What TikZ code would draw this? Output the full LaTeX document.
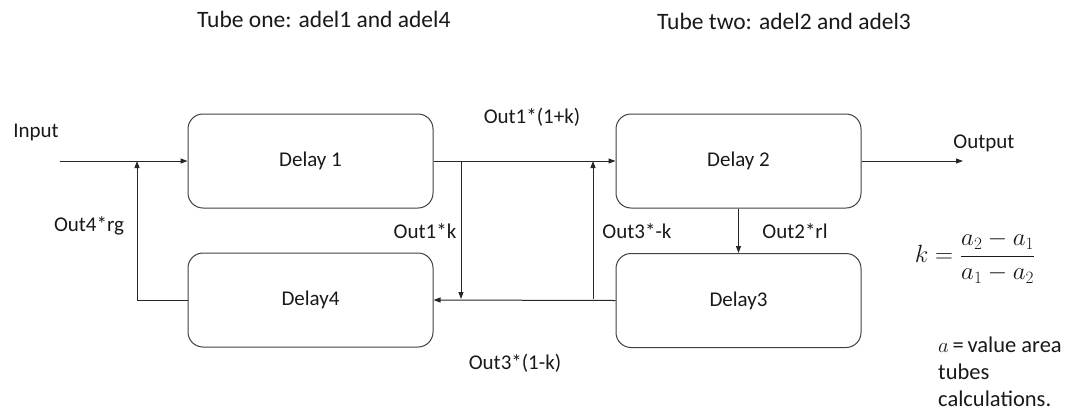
\documentclass[tikz,border=0pt]{standalone}
\usepackage{fontspec}
\setmainfont{Carlito}
\usetikzlibrary{arrows.meta}
\begin{document}
\begin{tikzpicture}[x=1pt,y=-1pt,
  every node/.style={font=\fontsize{21}{27}\selectfont, text=black!90},
  bigtext/.style={font=\fontsize{23.5}{27}\selectfont},
  delaybox/.style={draw=black!75, line width=1pt, rounded corners=15pt, minimum width=245pt, minimum height=94pt, inner sep=0pt},
  conn/.style={draw=black!85, line width=1pt},
  arr/.style={conn, -{Triangle[length=7pt,width=5pt]}},
  lbl/.style={inner sep=0pt}]
\useasboundingbox (0,0) rectangle (1078,418);
% boxes
\node[delaybox] (d1) at (310.5,161) {Delay 1};
\node[delaybox] (d2) at (738.5,161) {Delay 2};
\node[delaybox] (d3) at (738.5,300.5) {Delay3};
\node[delaybox] (d4) at (310.5,300) {Delay4};
% coordinates
\coordinate (in) at (60,161);
\coordinate (out) at (963,161);
\coordinate (j1) at (137,161);
\coordinate (j2) at (461,161);
\coordinate (j3) at (461,299);
\coordinate (j4) at (593,299);
\coordinate (j5) at (593,161);
% connectors
\draw[arr] (in) -- (d1.west);
\draw[arr] (d4.west) -| (j1);
\draw[arr] (d1.east) -- (d2.west);
\draw[arr] (j2) -- (j3);
\draw[arr] (j4) -- (j5);
\draw[arr] (d3.west) -- (d4.east);
\draw[arr] (d2.south) -- (d3.north);
\draw[arr] (d2.east) -- (out);
% labels
\node[lbl, bigtext, anchor=west] (t1) at (197,19) {Tube one: adel1 and adel4};
\node[lbl, bigtext, anchor=west] (t2) at (657,21) {Tube two: adel2 and adel3};
\node[lbl] (linput) at (36,132) {Input};
\node[lbl] (loutput) at (984,143) {Output};
\node[lbl] (l4rg) at (89,226) {Out4*rg};
\node[lbl] (l1k) at (425,231) {Out1*k};
\node[lbl] (l3k) at (637,231) {Out3*-k};
\node[lbl] (l2rl) at (795,231) {Out2*rl};
\node[lbl] (l11k) at (532,117) {Out1*(1+k)};
\node[lbl] (l31k) at (515,363) {Out3*(1-k)};
\node[lbl, font=\fontsize{24}{28}\selectfont] (formula) at (975,257) {$k=\displaystyle\frac{a_2-a_1}{a_1-a_2}$};
\node[lbl, font=\fontsize{22.5}{27}\selectfont, anchor=north west, align=left] (note) at (938,337) {$a$\,=\,value area\\tubes\\calculations.};
\end{tikzpicture}
\end{document}
